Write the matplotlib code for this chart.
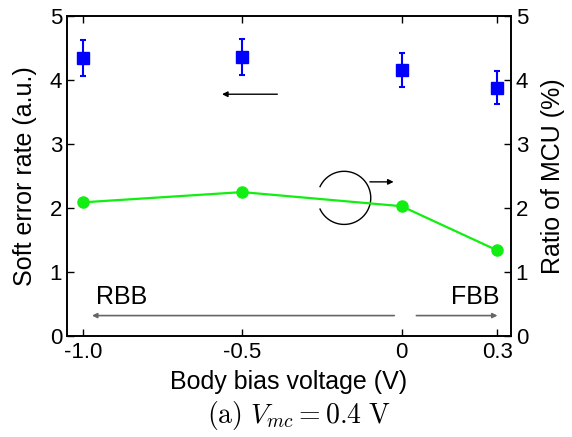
import numpy as np
import matplotlib
matplotlib.use("Agg")
import matplotlib.pyplot as plt

plt.rcParams['font.family'] = ['Liberation Sans', 'DejaVu Sans']
plt.rcParams['mathtext.fontset'] = 'cm'
plt.rcParams['axes.unicode_minus'] = False

# data
bias = [-1.0, -0.5, 0.0, 0.3]
ser = [4.35, 4.36, 4.16, 3.88]
ser_err = [0.28, 0.28, 0.27, 0.26]
mcu = [2.09, 2.25, 2.03, 1.34]
xtick_labels = ['-1.0', '-0.5', '0', '0.3']

fig = plt.figure(figsize=(5.72, 4.37), dpi=100)
ax = fig.add_axes([0.117, 0.231, 0.776, 0.732])
ax2 = ax.twinx()

ax.errorbar(bias, ser, yerr=ser_err, fmt='s', color='#0000ff', ms=9,
            elinewidth=1.5, capsize=2.5, capthick=1.5, zorder=3)
ax2.plot(bias, mcu, '-o', color='#11ee11', lw=1.6, ms=8, zorder=3)

for a in (ax, ax2):
    a.set_xlim(-1.05, 0.343)
    a.set_ylim(0, 5)
    a.set_yticks([0, 1, 2, 3, 4, 5])
    a.tick_params(direction='in', labelsize=16, length=5, width=1)
    for s in a.spines.values():
        s.set_linewidth(1.2)

ax.set_xticks(bias)
ax.set_xticklabels(xtick_labels)
ax.tick_params(axis='x', top=True, pad=4)
ax.set_xlabel('Body bias voltage (V)', fontsize=18, labelpad=5)
ax.set_ylabel('Soft error rate (a.u.)', fontsize=18, labelpad=9)
ax2.set_ylabel('Ratio of MCU (%)', fontsize=18, labelpad=9)

# arrow pointing to left axis
ax.annotate('', xy=(-0.572, 3.78), xytext=(-0.381, 3.78),
            arrowprops=dict(arrowstyle='-|>', color='black', lw=1,
                            mutation_scale=8))
# open circle with arrow pointing to right axis
t = np.radians(np.linspace(-155, 155, 100))
ax2.plot(-0.18 + 0.0835 * np.cos(t), 2.16 + 0.415 * np.sin(t),
         color='black', lw=1)
ax2.annotate('', xy=(-0.016, 2.41), xytext=(-0.108, 2.41),
             arrowprops=dict(arrowstyle='-|>', color='black', lw=1,
                             mutation_scale=8))

# RBB / FBB
ax.annotate('', xy=(-0.98, 0.32), xytext=(-0.014, 0.32),
            arrowprops=dict(arrowstyle='-|>', color='#666666', lw=1.2,
                            mutation_scale=7))
ax.annotate('', xy=(0.31, 0.32), xytext=(0.038, 0.32),
            arrowprops=dict(arrowstyle='-|>', color='#666666', lw=1.2,
                            mutation_scale=7))
ax.text(-0.96, 0.5, 'RBB', fontsize=18, ha='left', va='baseline')
ax.text(0.307, 0.5, 'FBB', fontsize=18, ha='right', va='baseline')

fig.text(0.523, 0.032, r'$\mathrm{(a)}\ V_{mc} = 0.4\ \mathrm{V}$', ha='center',
         va='baseline', fontsize=20)

fig.savefig('out.png', dpi=100)
